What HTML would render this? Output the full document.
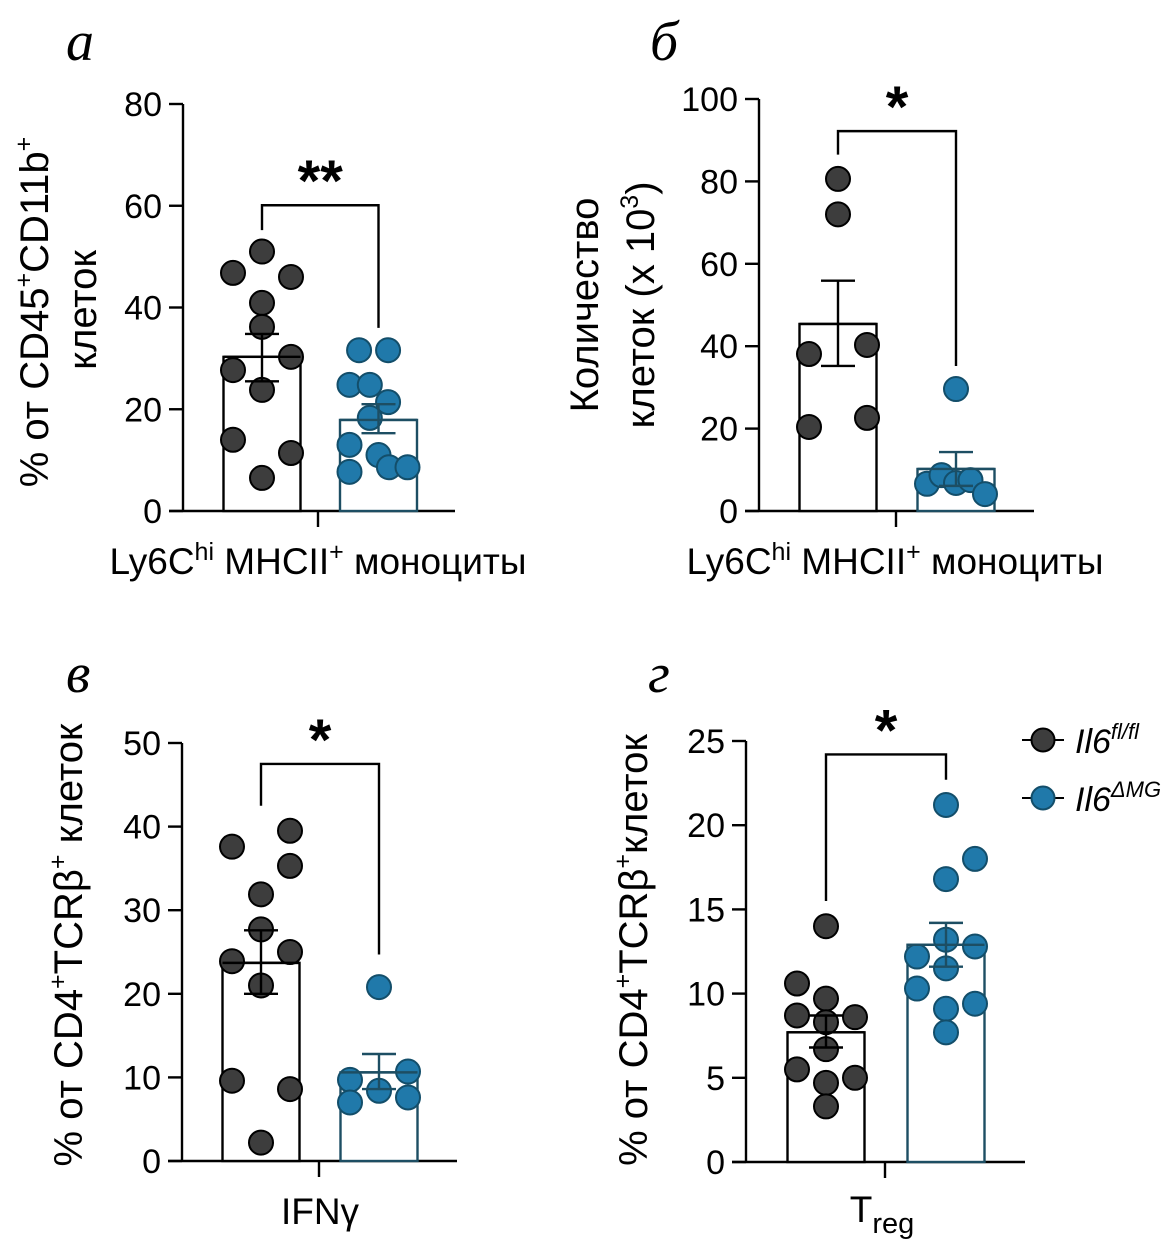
<!DOCTYPE html>
<html><head><meta charset="utf-8"><style>
html,body{margin:0;padding:0;background:#fff;}
svg{display:block;font-family:"Liberation Sans",Arial,sans-serif;}
.pl{font-family:"Liberation Serif",serif;font-style:italic;font-size:56px;}
.tk{font-size:34px;}
.ttl{font-size:37px;}
.yt{font-size:40px;}
</style></head><body>
<svg id="fig" width="1173" height="1246" viewBox="0 0 1173 1246" xmlns="http://www.w3.org/2000/svg">
<text class="pl" x="66" y="60">а</text>
<text class="pl" x="650" y="60">б</text>
<text class="pl" x="66" y="692">в</text>
<text class="pl" x="648" y="692">г</text>

<text class="yt" transform="translate(48,312) rotate(-90)" text-anchor="middle">% от CD45<tspan dy="-16" font-size="25">+</tspan><tspan dy="16">CD11b</tspan><tspan dy="-16" font-size="25">+</tspan></text>
<text class="yt" transform="translate(96,310) rotate(-90)" text-anchor="middle">клеток</text>
<text class="yt" transform="translate(598,305) rotate(-90)" text-anchor="middle">Количество</text>
<text class="yt" transform="translate(654,305) rotate(-90)" text-anchor="middle">клеток (x 10<tspan dy="-16" font-size="25">3</tspan><tspan dy="16">)</tspan></text>
<text class="yt" transform="translate(82,945) rotate(-90)" text-anchor="middle">% от CD4<tspan dy="-16" font-size="25">+</tspan><tspan dy="16">TCRβ</tspan><tspan dy="-16" font-size="25">+</tspan><tspan dy="16"> клеток</tspan></text>
<text class="yt" transform="translate(647,950) rotate(-90)" text-anchor="middle">% от CD4<tspan dy="-16" font-size="25">+</tspan><tspan dy="16">TCRβ</tspan><tspan dy="-16" font-size="25">+</tspan><tspan dy="16">клеток</tspan></text>

<text class="ttl" x="318" y="574" text-anchor="middle">Ly6C<tspan dy="-14" font-size="25">hi</tspan><tspan dy="14"> MHCII</tspan><tspan dy="-14" font-size="25">+</tspan><tspan dy="14"> моноциты</tspan></text>
<text class="ttl" x="895" y="574" text-anchor="middle">Ly6C<tspan dy="-14" font-size="25">hi</tspan><tspan dy="14"> MHCII</tspan><tspan dy="-14" font-size="25">+</tspan><tspan dy="14"> моноциты</tspan></text>
<text class="ttl" x="320" y="1224" text-anchor="middle">IFNγ</text>
<text class="ttl" x="882" y="1222" text-anchor="middle">T<tspan dy="11" font-size="29">reg</tspan></text>

<g>
<line x1="1022" y1="740" x2="1064" y2="740" stroke="#000" stroke-width="2"/>
<circle cx="1043" cy="740" r="11.5" fill="#3d3d3d" stroke="#000" stroke-width="2"/>
<text x="1075" y="753" font-size="34" font-style="italic">Il6<tspan dy="-14" font-size="22">fl/fl</tspan></text>
<line x1="1022" y1="798" x2="1064" y2="798" stroke="#000" stroke-width="2"/>
<circle cx="1043" cy="798" r="11.5" fill="#2079aa" stroke="#134e6a" stroke-width="2"/>
<text x="1075" y="811" font-size="34" font-style="italic">Il6<tspan dy="-14" font-size="22">ΔMG</tspan></text>
</g>
</svg>
<script>
// Panel a
const aTicks = [0, 20, 40, 60, 80];
const aMeans = [30.3, 17.9];
const aSemLo = [25.5, 15.3];
const aSemHi = [34.8, 21.0];
const aVals1 = [51, 46.8, 46, 40.9, 36.2, 30.3, 27.7, 23.8, 14, 11.4, 6.5];
const aCols1 = [0, -1, 1, 0, 0, 1, -1, 0, -1, 1, 0];
const aVals2 = [31.6, 31.6, 24.8, 24.8, 21.4, 18.3, 13, 11, 7.7, 8.6, 8.6];
const aCols2 = [-0.67, 0.33, -1, -0.3, 0.33, -0.3, -1, 0, -1, 0.36, 1];
const aBracket = [60.1, 55.2, 36];
// Panel b
const bTicks = [0, 20, 40, 60, 80, 100];
const bMeans = [45.4, 10.2];
const bSemLo = [35.2, 6.1];
const bSemHi = [55.9, 14.3];
const bVals1 = [80.6, 72, 38.1, 40.3, 20.4, 22.6];
const bCols1 = [0, 0, -1, 1, -1, 1];
const bVals2 = [29.6, 6.6, 8.7, 6.8, 7.5, 4.1];
const bCols2 = [0, -1, -0.5, 0, 0.5, 1];
const bBracket = [92.2, 86.5, 35.2];
// Panel c
const cTicks = [0, 10, 20, 30, 40, 50];
const cMeans = [23.7, 10.6];
const cSemLo = [20.0, 8.6];
const cSemHi = [27.6, 12.8];
const cVals1 = [37.6, 39.5, 35.3, 31.9, 27.7, 25, 23.9, 21, 9.6, 8.6, 2.2];
const cCols1 = [-1, 1, 1, 0, 0, 1, -1, 0, -1, 1, 0];
const cVals2 = [20.8, 9.7, 10.7, 8.4, 7.0, 7.6];
const cCols2 = [0, -1, 1, 0, -1, 1];
const cBracket = [47.5, 42.5, 24.7];
// Panel d
const dTicks = [0, 5, 10, 15, 20, 25];
const dMeans = [7.7, 12.9];
const dSemLo = [6.8, 11.6];
const dSemHi = [8.7, 14.2];
const dVals1 = [14, 10.6, 9.7, 8.7, 8.3, 8.6, 6.7, 5.5, 5.0, 4.7, 3.3];
const dCols1 = [0, -1, 0, -1, 0, 1, 0, -1, 1, 0, 0];
const dVals2 = [21.2, 18, 16.8, 13.2, 12.2, 12.8, 11.5, 10.3, 9.4, 9.1, 7.7];
const dCols2 = [0, 1, 0, 0, -1, 1, 0, -1, 1, 0, 0];
const dBracket = [24.2, 15.5, 22.7];

const NS = 'http://www.w3.org/2000/svg';
const svg = document.getElementById('fig');
function mk(tag, attrs, parent) {
  const e = document.createElementNS(NS, tag);
  for (const k in attrs) e.setAttribute(k, attrs[k]);
  (parent || svg).appendChild(e);
  return e;
}
const DARK = '#3d3d3d', BLUE = '#2079aa', BLUE_S = '#134e6a', BAR2 = '#1d4e63';

function panel(id, cfg, ticks, means, lo, hi, v1, c1, v2, c2, br, stars) {
  const g = mk('g', {});
  
  
  const max = ticks[ticks.length - 1];
  const y = v => cfg.y0 - (v / max) * (cfg.y0 - cfg.yTop);
  const ya = mk('line', {x1: cfg.ax, y1: y(max), x2: cfg.ax, y2: cfg.y0, stroke: '#000', 'stroke-width': 2.4}, g);
  
  
  ticks.forEach(t => {
    mk('line', {x1: cfg.ax - 14, y1: y(t), x2: cfg.ax, y2: y(t), stroke: '#000', 'stroke-width': 2.4}, g);
    const tx = mk('text', {x: cfg.ax - 21, y: y(t) + 12, 'text-anchor': 'end', class: 'tk'}, g);
    tx.textContent = t;
    
    
  });
  const xa = mk('line', {x1: cfg.ax - 14, y1: cfg.y0, x2: cfg.xEnd, y2: cfg.y0, stroke: '#000', 'stroke-width': 2.4}, g);
  
  
  mk('line', {x1: cfg.xt, y1: cfg.y0, x2: cfg.xt, y2: cfg.y0 + 16, stroke: '#000', 'stroke-width': 2.4}, g);
  const bw = 77;
  const cols = [cfg.c1, cfg.c2];
  const strokes = ['#000', BAR2];
  means.forEach((m, i) => {
    const b = mk('rect', {x: cols[i] - bw / 2, y: y(m), width: bw, height: cfg.y0 - y(m), fill: '#fff', stroke: strokes[i], 'stroke-width': 2.4}, g);
    
    
  });
  const pts = (vals, cs, cx, fill, st, name) => vals.forEach((v, k) => {
    const c = mk('circle', {cx: cx + cs[k] * 29, cy: y(v), r: 12, fill: fill, stroke: st, 'stroke-width': 2}, g);
    
    
  });
  pts(v1, c1, cfg.c1, DARK, '#000', 'point-il6-fl');
  pts(v2, c2, cfg.c2, BLUE, BLUE_S, 'point-il6-dmg');
  means.forEach((m, i) => {
    const cx = cols[i], s = strokes[i];
    const eg = mk('g', {stroke: s, 'stroke-width': 2.4}, g);
    
    
    mk('line', {x1: cx, y1: y(lo[i]), x2: cx, y2: y(hi[i])}, eg);
    mk('line', {x1: cx - 17, y1: y(lo[i]), x2: cx + 17, y2: y(lo[i])}, eg);
    mk('line', {x1: cx - 17, y1: y(hi[i]), x2: cx + 17, y2: y(hi[i])}, eg);
    mk('line', {x1: cx - bw / 2, y1: y(m), x2: cx + bw / 2, y2: y(m)}, eg);
  });
  const bp = mk('polyline', {points: `${cfg.c1},${y(br[1])} ${cfg.c1},${y(br[0])} ${cfg.c2},${y(br[0])} ${cfg.c2},${y(br[2])}`, fill: 'none', stroke: '#000', 'stroke-width': 2.4}, g);
  
  
  const st = mk('text', {x: (cfg.c1 + cfg.c2) / 2, y: y(br[0]) - 4, 'text-anchor': 'middle', 'font-size': 58, 'font-weight': 'bold'}, g);
  st.textContent = stars;
  
  
}
panel('a', {ax: 183, y0: 511, yTop: 104, xEnd: 455, xt: 318, c1: 262, c2: 378.5}, aTicks, aMeans, aSemLo, aSemHi, aVals1, aCols1, aVals2, aCols2, aBracket, '**');
panel('b', {ax: 759, y0: 511, yTop: 99, xEnd: 1034, xt: 896, c1: 838, c2: 956}, bTicks, bMeans, bSemLo, bSemHi, bVals1, bCols1, bVals2, bCols2, bBracket, '*');
panel('c', {ax: 182, y0: 1161, yTop: 743, xEnd: 457, xt: 319, c1: 261, c2: 379}, cTicks, cMeans, cSemLo, cSemHi, cVals1, cCols1, cVals2, cCols2, cBracket, '*');
panel('d', {ax: 746, y0: 1162, yTop: 741, xEnd: 1025, xt: 885, c1: 826, c2: 946}, dTicks, dMeans, dSemLo, dSemHi, dVals1, dCols1, dVals2, dCols2, dBracket, '*');
</script>
</body></html>
